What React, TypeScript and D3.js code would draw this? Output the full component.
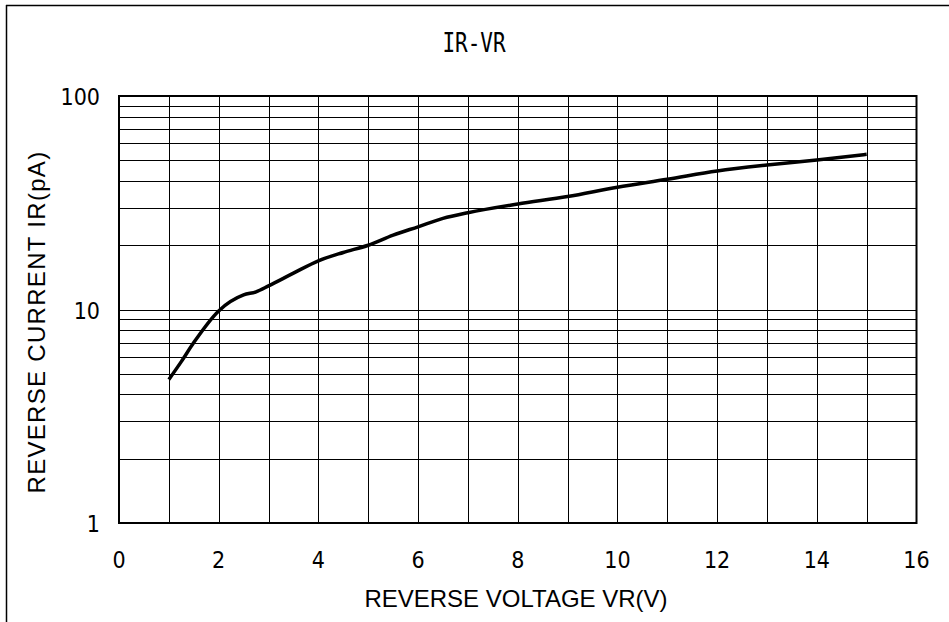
import React from "react";
import * as d3 from "d3";

const voltage = [1, 1.25, 1.5, 2, 2.5, 2.75, 3, 3.5, 4, 4.5, 5, 5.5, 6, 6.5, 7, 8, 9, 10, 11, 12, 13, 14, 15];
const current = [4.7, 5.7, 7.0, 9.85, 11.7, 12.1, 12.9, 14.8, 16.9, 18.5, 20.0, 22.3, 24.4, 26.7, 28.4, 31.2, 33.8, 37.4, 40.7, 44.5, 47.5, 50.2, 53.3];
const xTicks = [0, 2, 4, 6, 8, 10, 12, 14, 16];
const yTicks = [1, 10, 100];
const title = "IR-VR";
const xLabel = "REVERSE VOLTAGE VR(V)";
const yLabel = "REVERSE CURRENT IR(pA)";

const W = 949, H = 622;
const L = 119, R = 916.5, T = 96, B = 523;

export default function App() {
  const x = d3.scaleLinear().domain([0, 16]).range([L, R]);
  const y = d3.scaleLog().domain([1, 100]).range([B, T]);
  const vGrid = d3.range(1, 16);
  const hGrid: number[] = [];
  [1, 10].forEach((d) => { for (let k = 2; k <= 9; k++) hGrid.push(d * k); });
  hGrid.push(10);
  const pts = voltage.map((v, i) => [v, current[i]] as [number, number]);
  const line = d3.line<[number, number]>().x((d) => x(d[0])).y((d) => y(d[1])).curve(d3.curveMonotoneX);
  const tickFont = "'DejaVu Sans', sans-serif";
  const titleFont = "'DejaVu Sans Mono', monospace";
  const labelFont = "'Liberation Sans', Arial, sans-serif";
  return (
    <div style={{ position: "fixed", left: 0, top: 0 }}>
      <svg width={W} height={H} style={{ display: "block", background: "#fff" }}>
        <line x1={6} y1={5.5} x2={W} y2={5.5} stroke="#000" strokeWidth={1.5} />
        <line x1={6.5} y1={5} x2={6.5} y2={H} stroke="#000" strokeWidth={1.5} />
        <text transform="translate(474,52) scale(1,1.25)" textAnchor="middle" fontFamily={titleFont} fontSize={21} fill="#000">{title}</text>
        {vGrid.map((v) => (
          <line key={"v" + v} x1={Math.round(x(v)) + 0.5} x2={Math.round(x(v)) + 0.5} y1={T} y2={B} stroke="#000" strokeWidth={1} />
        ))}
        {hGrid.map((v, i) => (
          <line key={"h" + i} x1={L} x2={R} y1={Math.round(y(v)) + 0.5} y2={Math.round(y(v)) + 0.5} stroke="#000" strokeWidth={1} />
        ))}
        <rect x={L} y={T} width={R - L} height={B - T} fill="none" stroke="#000" strokeWidth={2} />
        <path d={line(pts) || ""} fill="none" stroke="#000" strokeWidth={3.5} strokeLinejoin="round" />
        {xTicks.map((t) => (
          <text key={"xt" + t} x={x(t)} y={568} textAnchor="middle" fontFamily={tickFont} fontStretch="condensed" fontSize={23} fill="#000">{t}</text>
        ))}
        {yTicks.map((t) => (
          <text key={"yt" + t} x={100} y={y(t) + 9} textAnchor="end" fontFamily={tickFont} fontStretch="condensed" fontSize={23} fill="#000">{t}</text>
        ))}
        <text x={516} y={607} textAnchor="middle" fontFamily={labelFont} fontSize={24} fill="#000">{xLabel}</text>
        <text transform={`translate(45,322) rotate(-90)`} textAnchor="middle" fontFamily={labelFont} fontSize={24} letterSpacing={1.3} fill="#000">{yLabel}</text>
      </svg>
    </div>
  );
}
